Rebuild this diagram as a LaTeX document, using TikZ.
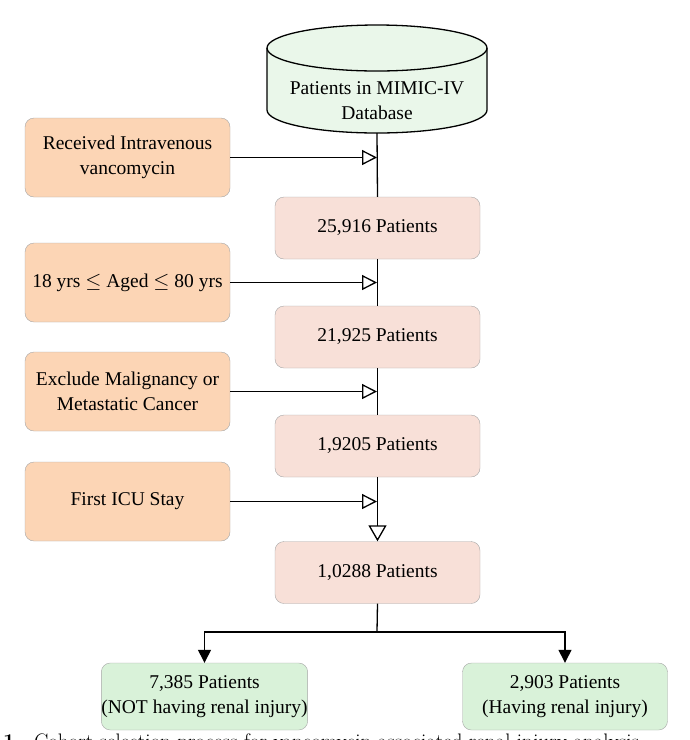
\documentclass[tikz,border=0pt]{standalone}
\usepackage{fontspec}
\newfontfamily\tnr{Liberation Serif}
\usetikzlibrary{arrows.meta,shapes.geometric}
\definecolor{orangebox}{HTML}{FCD5B5}
\definecolor{pinkbox}{HTML}{F8E0D8}
\definecolor{greenbox}{HTML}{D9F2D9}
\definecolor{cylfill}{HTML}{EAF7EA}
\begin{document}
\begin{tikzpicture}[x=1pt,y=-1pt,
  base/.style={draw=black!35,rounded corners=9pt,align=center,font=\tnr\fontsize{19.5}{25}\selectfont,inner sep=0pt},
  leftbox/.style={base,fill=orangebox,minimum width=205pt,minimum height=79pt},
  midbox/.style={base,fill=pinkbox,minimum width=205pt,minimum height=62pt},
  endbox/.style={base,fill=greenbox,minimum width=205pt,minimum height=67pt},
  flow/.style={line width=1.3pt},
  opentip/.style={flow,-{Triangle[open,length=15pt,width=15pt]}},
  bigtip/.style={flow,-{Triangle[open,length=16pt,width=18pt]}},
  filltip/.style={flow,-{Triangle[length=13pt,width=13pt]}}]
\useasboundingbox (0,0) rectangle (690,740);
\begin{scope}
\clip (0,0) rectangle (690,740);
% cylinder
\fill[cylfill] (267,48) -- (267,110) arc[start angle=180,end angle=0,x radius=110,y radius=23] -- (487,48) arc[start angle=0,end angle=-180,x radius=110,y radius=23];
\draw[line width=1.3pt] (267,48) -- (267,110) arc[start angle=180,end angle=0,x radius=110,y radius=23] -- (487,48);
\draw[line width=1.3pt] (377,48) ellipse[x radius=110,y radius=23];
\node[font=\tnr\fontsize{19.5}{25}\selectfont,align=center] (db) at (377,101) {Patients in MIMIC-IV\\Database};
\coordinate (dbb) at (377,133);
\node[leftbox] (l1) at (127.5,157.5) {Received Intravenous\\vancomycin};
\node[leftbox] (l2) at (127.5,282.5) {18 yrs $\leq$ Aged $\leq$ 80 yrs};
\node[leftbox] (l3) at (127.5,391.5) {Exclude Malignancy or\\Metastatic Cancer};
\node[leftbox] (l4) at (127.5,501.5) {First ICU Stay};
\node[midbox] (m1) at (377.5,228) {25,916 Patients};
\node[midbox] (m2) at (377.5,337) {21,925 Patients};
\node[midbox] (m3) at (377.5,446) {1,9205 Patients};
\node[midbox] (m4) at (377.5,572.5) {1,0288 Patients};
\node[endbox] (e1) at (204.5,696.5) {7,385 Patients\\(NOT having renal injury)};
\node[endbox] (e2) at (565,696.5) {2,903 Patients\\(Having renal injury)};
\draw[flow] (dbb) -- (m1.north);
\draw[flow] (m1.south) -- (m2.north);
\draw[flow] (m2.south) -- (m3.north);
\draw[bigtip] (m3.south) -- (m4.north);
\draw[opentip] (l1.east) -- (377,157.5);
\draw[opentip] (l2.east) -- (377,282.5);
\draw[opentip] (l3.east) -- (377,391.5);
\draw[opentip] (l4.east) -- (377,501.5);
\coordinate (split) at (377,632);
\draw[flow] (m4.south) -- (split);
\draw[filltip] (split) -| (e1.north);
\draw[filltip] (split) -| (e2.north);
\node[anchor=base west,font=\fontsize{21}{24}\selectfont,inner sep=0pt] (cap) at (3,748) {\textbf{1.}\ \ Cohort selection process for vancomycin-associated renal injury analysis};
\end{scope}
\end{tikzpicture}
\end{document}
